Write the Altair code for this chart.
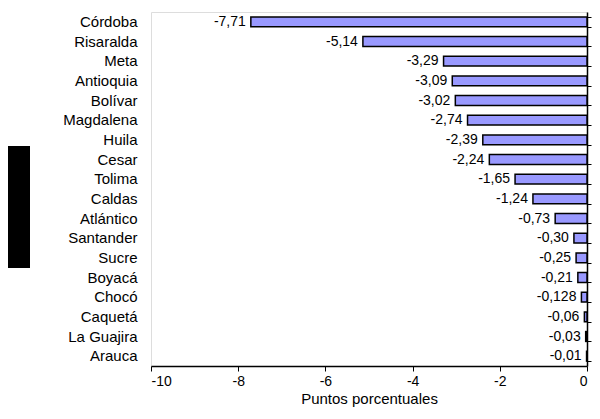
import altair as alt
import pandas as pd

departamentos = ["Córdoba", "Risaralda", "Meta", "Antioquia", "Bolívar", "Magdalena",
                 "Huila", "Cesar", "Tolima", "Caldas", "Atlántico", "Santander",
                 "Sucre", "Boyacá", "Chocó", "Caquetá", "La Guajira", "Arauca"]
valores = [-7.71, -5.14, -3.29, -3.09, -3.02, -2.74, -2.39, -2.24, -1.65, -1.24,
           -0.73, -0.30, -0.25, -0.21, -0.128, -0.06, -0.03, -0.01]
etiquetas = ["-7,71", "-5,14", "-3,29", "-3,09", "-3,02", "-2,74", "-2,39", "-2,24",
             "-1,65", "-1,24", "-0,73", "-0,30", "-0,25", "-0,21", "-0,128", "-0,06",
             "-0,03", "-0,01"]
x_ticks = [-10, -8, -6, -4, -2, 0]

df = pd.DataFrame({"dep": departamentos, "val": valores, "lab": etiquetas})
FONT = "Liberation Sans"

xscale = alt.Scale(domain=[-10, 0], nice=False, zero=False)
yscale = alt.Scale(paddingInner=0.5, paddingOuter=0.25)

bars = alt.Chart(df).mark_bar(color="#9999FF", stroke="black", strokeWidth=1.5).encode(
    x=alt.X("val:Q", scale=xscale,
            axis=alt.Axis(values=x_ticks, title="Puntos porcentuales", grid=False,
                          labelExpr="'' + datum.value", tickSize=5, tickColor="black",
                          domainColor="black", domainWidth=1.5, labelFont=FONT,
                          labelFontSize=14, labelColor="black", titleFont=FONT,
                          titleFontSize=15, titleFontWeight="normal", titleColor="black",
                          labelPadding=3, titlePadding=3)),
    x2=alt.datum(0),
    y=alt.Y("dep:N", sort=departamentos, scale=yscale,
            axis=alt.Axis(orient="left", title=None, ticks=False, domain=False,
                          labelFont=FONT, labelFontSize=15, labelColor="black",
                          labelPadding=14)),
)

text = alt.Chart(df).mark_text(align="right", baseline="middle", dx=-5, font=FONT,
                               fontSize=14, color="black").encode(
    x=alt.X("val:Q", scale=xscale),
    y=alt.Y("dep:N", sort=departamentos, scale=yscale,
            axis=alt.Axis(orient="right", title=None, labels=False, ticks=True,
                          tickBand="extent", tickSize=4, tickColor="black",
                          domain=True, domainColor="black", domainWidth=1.5)),
    text="lab:N",
)

box = alt.Chart(pd.DataFrame({"a": [0]})).mark_rect(color="black").encode(
    x=alt.value(-143), x2=alt.value(-121), y=alt.value(134), y2=alt.value(256)
)

chart = alt.layer(bars, text, box).resolve_axis(y="independent").properties(
    width=436, height=354,
    autosize=alt.AutoSizeParams(type="none"),
    padding={"left": 143, "top": 4, "right": 5, "bottom": 45},
).configure_view(stroke="black", strokeWidth=1.5).configure(background="white")

chart.save("out.html", embed_options={"renderer": "svg", "actions": False})
